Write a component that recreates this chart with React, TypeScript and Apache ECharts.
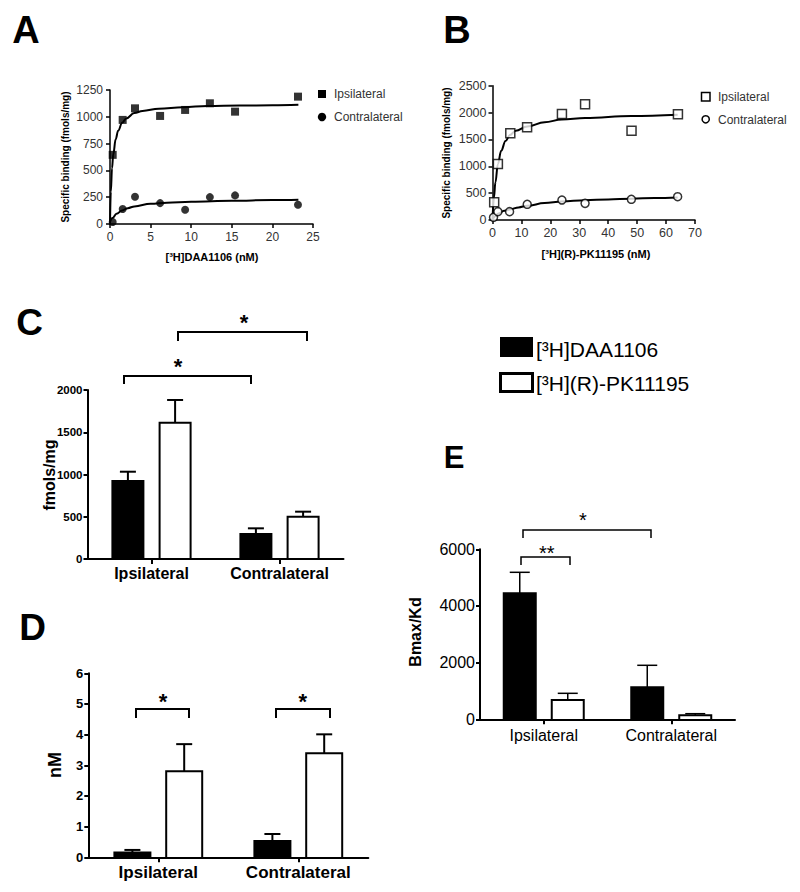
import React, { useEffect, useRef } from "react";
import * as echarts from "echarts";

const FONT = "'Liberation Sans', Arial, Helvetica, sans-serif";

// ---- Panel A: [3H]DAA1106 saturation ----
const aConc = [0.33, 1.56, 3.08, 6.17, 9.25, 12.3, 15.4, 23.15];
const aIpsi = [645, 971, 1079, 1008, 1064, 1126, 1048, 1188];
const aContra = [19, 140, 254, 195, 133, 251, 267, 180];
const aFitIpsiX = [0, 0.1, 0.25, 0.4, 0.7, 1, 1.5, 2, 3, 4, 6, 9, 12, 16, 20, 23.2];
const aFitIpsiY = [0, 300, 520, 650, 790, 870, 945, 985, 1035, 1055, 1075, 1090, 1100, 1105, 1108, 1112];
const aFitContraX = [0, 0.3, 0.8, 1.5, 2.2, 3, 5, 7, 10, 15, 20, 23.2];
const aFitContraY = [20, 56, 95, 127, 148, 164, 189, 199, 208, 217, 223, 226];

// ---- Panel B: [3H](R)-PK11195 saturation ----
const bConc = [0.58, 1.86, 6.15, 11.96, 24.0, 32.0, 48.06, 64.1];
const bIpsi = [329, 1042, 1613, 1725, 1973, 2153, 1662, 1967];
const bConcContra = [0.35, 1.86, 5.9, 12.0, 24.0, 32.0, 48.0, 64.0];
const bContra = [50, 155, 155, 292, 372, 310, 385, 434];
const bFitIpsiX = [0, 0.5, 1, 1.86, 3, 4.5, 6, 8, 12, 18, 24, 32, 48, 64];
const bFitIpsiY = [0, 420, 700, 1040, 1290, 1470, 1580, 1660, 1740, 1820, 1870, 1900, 1935, 1960];
const bFitContraX = [0, 1, 2, 4, 6, 9, 12, 18, 24, 32, 40, 48, 56, 64];
const bFitContraY = [0, 70, 120, 170, 195, 235, 265, 315, 345, 368, 383, 397, 410, 420];

// ---- Panels C, D, E ----
const cats = ["Ipsilateral", "Contralateral"];
const cDAA = [923, 296];
const cDAAErr = [110, 67];
const cPK = [1613, 501];
const cPKErr = [269, 59];

const dDAA = [0.16, 0.53];
const dDAAErr = [0.08, 0.23];
const dPK = [2.81, 3.39];
const dPKErr = [0.88, 0.62];

const eDAA = [4447, 1129];
const eDAAErr = [741, 777];
const ePK = [681, 141];
const ePKErr = [236, 57];

const zip = (xs: number[], ys: number[]) => xs.map((x, i) => [x, ys[i]]);
const plain = (v: number) => String(v);

function valueAxis(gridIndex: number, min: number, max: number, interval: number, fontSize = 12, margin = 7) {
  return {
    gridIndex,
    type: "value",
    min,
    max,
    interval,
    axisLine: { show: true, onZero: false, lineStyle: { color: "#000", width: 1.5 } },
    axisTick: { show: true, length: 4, lineStyle: { color: "#000", width: 1.5 } },
    splitLine: { show: false },
    axisLabel: { fontSize, color: "#333", margin, fontFamily: FONT, formatter: plain },
  };
}

function barValueAxis(gridIndex: number, min: number, max: number, interval: number, label: any) {
  return {
    gridIndex,
    type: "value",
    min,
    max,
    interval,
    z: 10,
    axisLine: { show: true, lineStyle: { color: "#000", width: 2 } },
    axisTick: { show: true, length: 4, lineStyle: { color: "#000", width: 2 } },
    splitLine: { show: false },
    axisLabel: { color: "#000", margin: 5, fontFamily: FONT, formatter: plain, ...label },
  };
}

function catAxis(gridIndex: number, label: any) {
  return {
    gridIndex,
    type: "category",
    data: cats,
    z: 10,
    axisLine: { show: true, lineStyle: { color: "#000", width: 2 } },
    axisTick: { show: true, alignWithLabel: true, length: 5, lineStyle: { color: "#000", width: 2 } },
    splitLine: { show: false },
    axisLabel: { color: "#000", fontFamily: FONT, interval: 0, ...label },
  };
}

function barSeries(idx: number, data: number[], white: boolean, width: number, gap: string) {
  return {
    type: "bar",
    xAxisIndex: idx,
    yAxisIndex: idx,
    data,
    barWidth: width,
    barGap: gap,
    z: 2,
    itemStyle: { color: white ? "#fff" : "#000", borderWidth: 0 },
  };
}

// error bars (upward only) plus the outline of each bar
function errSeries(idx: number, vals: number[], errs: number[], offset: number, capHalf: number, lw: number, barW: number) {
  return {
    type: "custom",
    xAxisIndex: idx,
    yAxisIndex: idx,
    z: 5,
    silent: true,
    data: vals.map((v, i) => [i, v, v + errs[i]]),
    encode: { x: 0, y: [1, 2] },
    renderItem: (params: any, api: any) => {
      const base = api.coord([api.value(0), api.value(1)]);
      const top = api.coord([api.value(0), api.value(2)]);
      const zero = api.coord([api.value(0), 0]);
      const x = base[0] + offset;
      const h = barW / 2;
      return {
        type: "group",
        children: [
          {
            type: "polyline",
            shape: { points: [[x - h, zero[1]], [x - h, base[1]], [x + h, base[1]], [x + h, zero[1]]] },
            style: { stroke: "#000", lineWidth: 2, fill: "none" },
          },
          { type: "line", shape: { x1: x, y1: base[1], x2: x, y2: top[1] }, style: { stroke: "#000", lineWidth: lw } },
          { type: "line", shape: { x1: x - capHalf, y1: top[1], x2: x + capHalf, y2: top[1] }, style: { stroke: "#000", lineWidth: lw } },
        ],
      };
    },
  };
}

function curve(idx: number, xs: number[], ys: number[]) {
  return {
    type: "line",
    xAxisIndex: idx,
    yAxisIndex: idx,
    data: zip(xs, ys),
    showSymbol: false,
    symbol: "none",
    smooth: 0.4,
    smoothMonotone: "x",
    z: 2,
    lineStyle: { color: "#000", width: 2 },
  };
}

function scatter(idx: number, xs: number[], ys: number[], symbol: string, size: number, open: boolean) {
  return {
    type: "scatter",
    xAxisIndex: idx,
    yAxisIndex: idx,
    data: zip(xs, ys),
    symbol,
    symbolSize: size,
    z: 4,
    itemStyle: open
      ? { color: "#fff", borderColor: "#000", borderWidth: 1.5 }
      : { color: "#000" },
  };
}

function txt(text: string, x: number, y: number, size: number, opts: any = {}) {
  return {
    type: "text",
    x,
    y,
    rotation: opts.rotation || 0,
    z: 10,
    style: {
      text,
      fontSize: size,
      fontWeight: opts.bold ? "bold" : "normal",
      fontFamily: FONT,
      fill: opts.color || "#000",
      textAlign: opts.align || "center",
      textVerticalAlign: "middle",
    },
  };
}

function bracket(x1: number, x2: number, y: number, drop: number, lw: number) {
  return {
    type: "polyline",
    z: 10,
    shape: { points: [[x1, y + drop], [x1, y], [x2, y], [x2, y + drop]] },
    style: { stroke: "#000", lineWidth: lw, fill: "none" },
  };
}

export default function App() {
  const ref = useRef<HTMLDivElement>(null);

  useEffect(() => {
    document.body.style.margin = "0";
    if (!ref.current) return;
    const chart = echarts.init(ref.current, undefined, { renderer: "svg" });
    const rot = Math.PI / 2;
    const option: any = {
      animation: false,
      backgroundColor: "#fff",
      grid: [
        { left: 110, top: 90, width: 203, height: 134 },
        { left: 492.5, top: 85.7, width: 202.5, height: 134.3 },
        { left: 87.5, top: 390, width: 256, height: 169 },
        { left: 88.3, top: 673.3, width: 280, height: 184 },
        { left: 480, top: 549.3, width: 255, height: 170 },
      ],
      xAxis: [
        valueAxis(0, 0, 25, 5, 12, 7),
        valueAxis(1, 0, 70, 10, 12.5, 6),
        catAxis(2, { fontSize: 16, fontWeight: "bold", margin: 6 }),
        catAxis(3, { fontSize: 17, fontWeight: "bold", margin: 7 }),
        catAxis(4, { fontSize: 16, margin: 8 }),
      ],
      yAxis: [
        valueAxis(0, 0, 1250, 250, 12, 7),
        valueAxis(1, 0, 2500, 500, 12.5, 6),
        barValueAxis(2, 0, 2000, 500, { fontSize: 11.5, fontWeight: "bold" }),
        barValueAxis(3, 0, 6, 1, { fontSize: 13, fontWeight: "bold" }),
        barValueAxis(4, 0, 6000, 2000, { fontSize: 16 }),
      ],
      series: [
        curve(0, aFitIpsiX, aFitIpsiY),
        curve(0, aFitContraX, aFitContraY),
        scatter(0, aConc, aIpsi, "rect", 8, false),
        scatter(0, aConc, aContra, "circle", 8, false),
        curve(1, bFitIpsiX, bFitIpsiY),
        curve(1, bFitContraX, bFitContraY),
        scatter(1, bConc, bIpsi, "rect", 9, true),
        scatter(1, bConcContra, bContra, "circle", 8, true),
        barSeries(2, cDAA, false, 31, "52%"),
        barSeries(2, cPK, true, 31, "52%"),
        errSeries(2, cDAA, cDAAErr, -23.6, 8, 2, 31),
        errSeries(2, cPK, cPKErr, 23.6, 8, 2, 31),
        barSeries(3, dDAA, false, 36, "44%"),
        barSeries(3, dPK, true, 36, "44%"),
        errSeries(3, dDAA, dDAAErr, -25.9, 8, 2, 36),
        errSeries(3, dPK, dPKErr, 25.9, 8, 2, 36),
        barSeries(4, eDAA, false, 32, "50%"),
        barSeries(4, ePK, true, 32, "50%"),
        errSeries(4, eDAA, eDAAErr, -24, 10, 1.5, 32),
        errSeries(4, ePK, ePKErr, 24, 10, 1.5, 32),
      ],
      graphic: [
        // panel letters
        txt("A", 26, 30, 38, { bold: true }),
        txt("B", 457, 30, 38, { bold: true }),
        txt("C", 29.5, 322, 37, { bold: true }),
        txt("D", 32.5, 627, 37, { bold: true }),
        txt("E", 454, 457, 31, { bold: true }),
        // axis titles A/B
        txt("Specific binding (fmols/mg)", 65, 157, 10, { bold: true, rotation: rot }),
        txt("[³H]DAA1106 (nM)", 212, 257, 11, { bold: true }),
        txt("Specific binding (fmols/mg)", 446, 153, 10, { bold: true, rotation: rot }),
        txt("[³H](R)-PK11195 (nM)", 596, 254, 11, { bold: true }),
        // legends A/B
        { type: "rect", z: 10, shape: { x: 318, y: 90, width: 8, height: 8 }, style: { fill: "#000" } },
        { type: "circle", z: 10, shape: { cx: 322, cy: 117, r: 4.2 }, style: { fill: "#000" } },
        txt("Ipsilateral", 334, 94, 12, { align: "left", color: "#333" }),
        txt("Contralateral", 334, 117, 12, { align: "left", color: "#333" }),
        { type: "rect", z: 10, shape: { x: 701.5, y: 92.5, width: 8.5, height: 8.5 }, style: { fill: "#fff", stroke: "#000", lineWidth: 1.5 } },
        { type: "circle", z: 10, shape: { cx: 705.7, cy: 119.3, r: 3.6 }, style: { fill: "#fff", stroke: "#000", lineWidth: 1.5 } },
        txt("Ipsilateral", 718, 97, 12, { align: "left", color: "#333" }),
        txt("Contralateral", 718, 119.5, 12, { align: "left", color: "#333" }),
        // main legend
        { type: "rect", z: 10, shape: { x: 500, y: 337, width: 33, height: 20 }, style: { fill: "#000" } },
        { type: "rect", z: 10, shape: { x: 500.5, y: 373.5, width: 32, height: 18 }, style: { fill: "#fff", stroke: "#000", lineWidth: 3 } },
        txt("[³H]DAA1106", 536, 349, 21, { align: "left" }),
        txt("[³H](R)-PK11195", 536, 383, 21, { align: "left" }),
        // bar panel titles
        txt("fmols/mg", 49, 475, 16, { bold: true, rotation: rot }),
        txt("nM", 55, 765, 18, { bold: true, rotation: rot }),
        txt("Bmax/Kd", 415, 632, 16, { bold: true, rotation: rot }),
        // C brackets
        bracket(178, 307, 332, 9, 2),
        txt("*", 244, 322, 22, { bold: true }),
        bracket(124, 251, 376, 8, 2),
        txt("*", 178, 366, 22, { bold: true }),
        // D brackets
        bracket(136, 189, 709, 9, 2),
        txt("*", 163, 701, 22, { bold: true }),
        bracket(276, 330, 709, 9, 2),
        txt("*", 302.7, 701, 22, { bold: true }),
        // E brackets
        bracket(523, 651, 530, 8, 1.5),
        txt("*", 583, 520, 20),
        bracket(521, 570, 557, 8, 1.5),
        txt("**", 546.7, 553, 20),
      ],
    };
    chart.setOption(option);
    return () => chart.dispose();
  }, []);

  return (
    <div
      ref={ref}
      style={{ position: "fixed", left: 0, top: 0, width: 800, height: 892, background: "#fff" }}
    />
  );
}
